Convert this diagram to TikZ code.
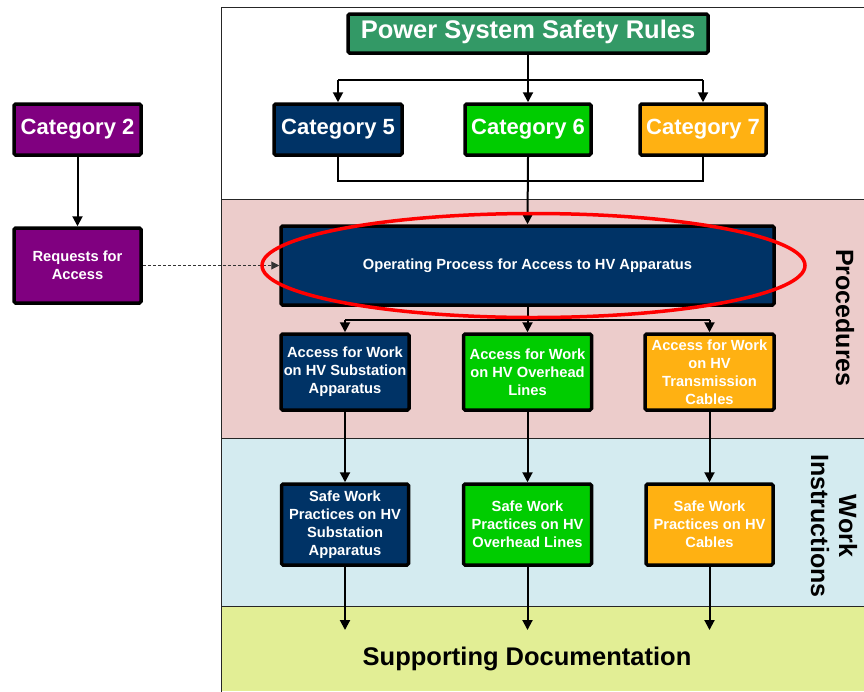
\documentclass[tikz,border=0pt]{standalone}
\usepackage{fontspec}
\setmainfont{Liberation Sans}
\usetikzlibrary{arrows.meta}
\definecolor{navy}{HTML}{003366}
\definecolor{brightgreen}{HTML}{00CC00}
\definecolor{orangebox}{HTML}{FFB112}
\definecolor{titlegreen}{HTML}{339966}
\definecolor{purplebox}{HTML}{800080}
\definecolor{pinkband}{HTML}{ECCCCB}
\definecolor{blueband}{HTML}{D4EBF0}
\definecolor{yellowband}{HTML}{E2EE95}
\tikzset{
  boxframe/.style={draw=black, line width=3.5pt, rounded corners=1.5pt, text=white, inner sep=0pt},
  box/.style={boxframe, align=center, font=\bfseries\fontsize{14.7}{18}\selectfont},
  bigbox/.style={boxframe, font=\bfseries\fontsize{22}{26}\selectfont, text height=1.25em, text depth=0.2em},
  conn/.style={line width=2pt, draw=black},
  arr/.style={conn, -{Triangle[length=10pt,width=10pt]}},
  dasharr/.style={line width=1pt, draw=black!80, dash pattern=on 3pt off 2pt, -{Triangle[length=8pt,width=8pt]}},
  bandlabel/.style={rotate=-90, align=center, font=\bfseries\fontsize{25}{28}\selectfont},
}
\begin{document}
\begin{tikzpicture}[x=1pt, y=-1pt]
\useasboundingbox (0,0) rectangle (864,691);
% bands
\fill[pinkband] (221,199) rectangle (866,438);
\fill[blueband] (221,438) rectangle (866,606);
\fill[yellowband] (221,606) rectangle (866,691);
\draw[line width=1pt, black!85] (866,7) -- (221,7) -- (221,692);
\draw[line width=1pt, black!85] (221,199) -- (866,199);
\draw[line width=1pt, black!85] (221,438) -- (866,438);
\draw[line width=1pt, black!85] (221,606) -- (866,606);
% nodes
\node[bigbox, fill=titlegreen, minimum width=360pt, minimum height=39pt,
  font=\bfseries\fontsize{25.5}{30}\selectfont] (title) at (528,33.5) {Power System Safety Rules};
\node[bigbox, fill=navy, minimum width=128pt, minimum height=51pt] (cat5) at (338,129.5) {Category 5};
\node[bigbox, fill=brightgreen, minimum width=126pt, minimum height=51pt] (cat6) at (528,129.5) {Category 6};
\node[bigbox, fill=orangebox, minimum width=126pt, minimum height=51pt] (cat7) at (703,129.5) {Category 7};
\node[bigbox, fill=purplebox, minimum width=127pt, minimum height=51pt] (cat2) at (77.5,129.5) {Category 2};
\node[box, fill=purplebox, minimum width=127pt, minimum height=75pt] (req) at (77.5,265.5) {Requests for\\Access};
\node[box, fill=navy, minimum width=493pt, minimum height=79pt] (op) at (527.5,265.5) {Operating Process for Access to HV Apparatus};
\node[box, fill=navy, minimum width=128pt, minimum height=76pt] (a1) at (345,372) {Access for Work\\on HV Substation\\Apparatus};
\node[box, fill=brightgreen, minimum width=128pt, minimum height=76pt] (a2) at (527.5,372) {Access for Work\\on HV Overhead\\Lines};
\node[box, fill=orangebox, minimum width=129pt, minimum height=76pt] (a3) at (709.5,372) {Access for Work\\on HV\\Transmission\\Cables};
\node[box, fill=navy, minimum width=127pt, minimum height=81pt] (s1) at (345,524.5) {Safe Work\\Practices on HV\\Substation\\Apparatus};
\node[box, fill=brightgreen, minimum width=128pt, minimum height=81pt] (s2) at (527.5,524.5) {Safe Work\\Practices on HV\\Overhead Lines};
\node[box, fill=orangebox, minimum width=127pt, minimum height=81pt] (s3) at (709.5,524.5) {Safe Work\\Practices on HV\\Cables};
\node[font=\bfseries\fontsize{25.5}{30}\selectfont] (supp) at (527,659) {Supporting Documentation};
\node[bandlabel] (proc) at (845,318) {Procedures};
\node[bandlabel] (wi) at (834,526) {Work\\Instructions};
% junctions
\coordinate (j1) at (528,80);
\coordinate (j2) at (528,181);
\coordinate (j3) at (527.5,320);
\coordinate (e1) at (345,630);
\coordinate (e2) at (527.5,630);
\coordinate (e3) at (709.5,630);
% connectors top
\draw[arr] (title.south) -- (cat6.north);
\draw[conn] (j1 -| cat5) -- (j1 -| cat7);
\draw[arr] (j1 -| cat5) -- (cat5.north);
\draw[arr] (j1 -| cat7) -- (cat7.north);
\draw[conn] (cat5.south) -- (cat5.south |- j2) -- (cat7.south |- j2) -- (cat7.south);
\draw[arr] (cat6.south) -- (op.north);
% op to access
\draw[conn] (j3 -| a1) -- (j3 -| a3);
\draw[arr] (op.south) -- (a2.north);
\draw[arr] (j3 -| a1) -- (a1.north);
\draw[arr] (j3 -| a3) -- (a3.north);
% access to safe
\draw[arr] (a1.south) -- (s1.north);
\draw[arr] (a2.south) -- (s2.north);
\draw[arr] (a3.south) -- (s3.north);
% safe to supporting
\draw[arr] (s1.south) -- (e1);
\draw[arr] (s2.south) -- (e2);
\draw[arr] (s3.south) -- (e3);
% left
\draw[arr] (cat2.south) -- (req.north);
\draw[dasharr] (req.east) -- (op.west);
% highlight ellipse
\draw[red, line width=3.5pt] (533.5,265.5) ellipse [x radius=271.5pt, y radius=52pt];
\end{tikzpicture}
\end{document}
